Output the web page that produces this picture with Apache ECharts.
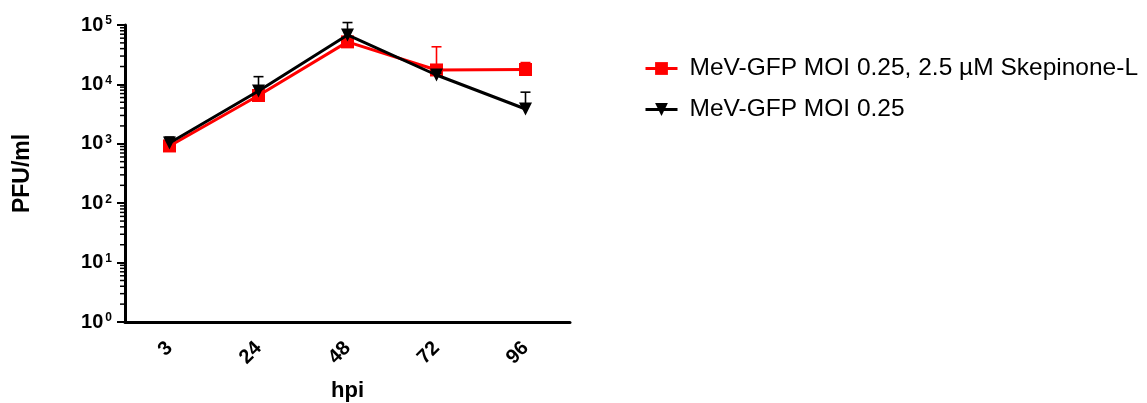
<!DOCTYPE html>
<html>
<head>
<meta charset="utf-8">
<script src="https://cdn.jsdelivr.net/npm/echarts@6/dist/echarts.min.js"></script>
<style>
  html, body { margin: 0; padding: 0; background: #fff; }
  #chart { width: 1147px; height: 403px; }
</style>
</head>
<body>
<div id="chart"></div>
<script>
// Time points (hours post infection)
const hours = ['3', '24', '48', '72', '96'];

// Titres (PFU/ml): mean and upper end of the error bar
const skepMean  = [920, 6500, 52000, 17500, 17800];
const skepUpper = [1000, 7000, 56000, 43000, 23300];
const ctrlMean  = [1030, 7750, 68000, 14400, 3850];
const ctrlUpper = [1300, 13500, 110000, 15500, 7400];

const skepName = 'MeV-GFP MOI 0.25, 2.5 \u00b5M Skepinone-L';
const ctrlName = 'MeV-GFP MOI 0.25';

// Log axis range and decades
const yMin = 1, yMax = 100000;
const decades = [0, 1, 2, 3, 4];
const minorSteps = [2, 3, 4, 5, 6, 7, 8, 9];

const RED = '#ff0000';
const BLACK = '#000000';
const FONT = 'Arial, "Liberation Sans", Helvetica, sans-serif';

// minor tick values between each decade
const minorTicks = [];
decades.forEach(function (d) {
  minorSteps.forEach(function (m) { minorTicks.push([0, m * Math.pow(10, d)]); });
});

function errorData(mean, upper) {
  return mean.map(function (m, i) { return [i, m, upper[i]]; });
}

function errorRenderer(color) {
  return function (params, api) {
    const lo = api.coord([api.value(0), api.value(1)]);
    const hi = api.coord([api.value(0), api.value(2)]);
    const half = 5;
    const style = { stroke: color, lineWidth: 1.6, fill: null };
    return {
      type: 'group',
      children: [
        { type: 'line', shape: { x1: lo[0], y1: lo[1], x2: hi[0], y2: hi[1] }, style: style },
        { type: 'line', shape: { x1: hi[0] - half, y1: hi[1], x2: hi[0] + half, y2: hi[1] }, style: style }
      ]
    };
  };
}

const chart = echarts.init(document.getElementById('chart'), null, { renderer: 'canvas' });

chart.setOption({
  animation: false,
  backgroundColor: '#ffffff',
  textStyle: { fontFamily: FONT },
  grid: { left: 125, right: 577, top: 25, bottom: 81, containLabel: false, outerBoundsMode: 'none' },
  legend: {
    orient: 'vertical',
    left: 639,
    top: 51,
    itemWidth: 32,
    itemHeight: 16,
    itemGap: 16,
    data: [skepName, ctrlName],
    lineStyle: { width: 3 },
    textStyle: { fontFamily: FONT, fontSize: 24.5, color: '#000', padding: [0, 0, 0, 7] }
  },
  xAxis: {
    type: 'category',
    data: hours,
    boundaryGap: true,
    name: 'hpi',
    nameLocation: 'middle',
    nameGap: 58,
    nameTextStyle: { fontFamily: FONT, fontSize: 22, fontWeight: 'bold', color: '#000' },
    axisLine: { lineStyle: { color: '#000', width: 3 } },
    axisTick: { alignWithLabel: true, length: 8, lineStyle: { color: '#000', width: 2 } },
    axisLabel: {
      rotate: 45,
      margin: 23,
      padding: [8, 0, 0, 0],
      fontFamily: FONT,
      fontSize: 20,
      fontWeight: 'bold',
      color: '#000'
    },
    splitLine: { show: false }
  },
  yAxis: {
    type: 'log',
    logBase: 10,
    min: yMin,
    max: yMax,
    name: 'PFU/ml',
    nameLocation: 'middle',
    nameGap: 91,
    nameRotate: 90,
    nameTextStyle: { fontFamily: FONT, fontSize: 23, fontWeight: 'bold', color: '#000' },
    axisLine: { show: true, lineStyle: { color: '#000', width: 3 } },
    axisTick: { show: true, length: 8, lineStyle: { color: '#000', width: 2 } },
    splitLine: { show: false },
    axisLabel: {
      margin: 13,
      formatter: function (v) {
        const e = Math.round(Math.log10(v));
        return '{b|10}{s|' + e + '}';
      },
      rich: {
        b: { fontFamily: FONT, fontSize: 20, fontWeight: 'bold', color: '#000' },
        s: { fontFamily: FONT, fontSize: 12, fontWeight: 'bold', color: '#000', verticalAlign: 'top', padding: [0, 0, 8, 2] }
      }
    }
  },
  series: [
    {
      name: 'minor ticks',
      type: 'custom',
      silent: true,
      legendHoverLink: false,
      data: minorTicks,
      renderItem: function (params, api) {
        const y = api.coord([0, api.value(1)])[1];
        const x = params.coordSys.x;
        return {
          type: 'line',
          shape: { x1: x - 5, y1: y, x2: x, y2: y },
          style: { stroke: '#000', lineWidth: 1.5 }
        };
      },
      z: 1
    },
    {
      name: skepName,
      type: 'line',
      data: skepMean,
      symbol: 'rect',
      symbolSize: 13,
      lineStyle: { color: RED, width: 3 },
      itemStyle: { color: RED },
      z: 3
    },
    {
      name: skepName + ' error',
      type: 'custom',
      data: errorData(skepMean, skepUpper),
      renderItem: errorRenderer(RED),
      z: 3
    },
    {
      name: ctrlName,
      type: 'line',
      data: ctrlMean,
      symbol: 'triangle',
      symbolRotate: 180,
      symbolSize: 13,
      lineStyle: { color: BLACK, width: 3 },
      itemStyle: { color: BLACK },
      z: 4
    },
    {
      name: ctrlName + ' error',
      type: 'custom',
      data: errorData(ctrlMean, ctrlUpper),
      renderItem: errorRenderer(BLACK),
      z: 4
    }
  ]
});
</script>
</body>
</html>
